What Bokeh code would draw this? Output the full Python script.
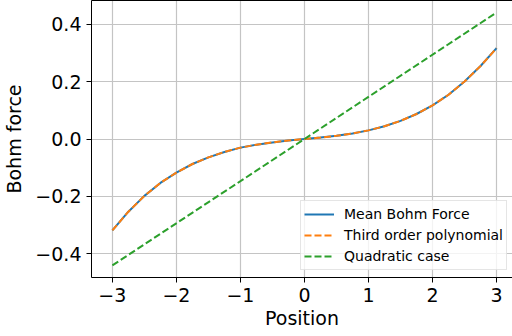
from bokeh.plotting import figure
from bokeh.models import (Range1d, LinearAxis, FixedTicker, CustomJSTickFormatter,
                          Legend, LegendItem)
from bokeh.embed import file_html
from bokeh.resources import INLINE

positions = [-3.0, -2.75, -2.5, -2.25, -2.0, -1.75, -1.5, -1.25, -1.0, -0.75, -0.5, -0.25,
             0.0, 0.25, 0.5, 0.75, 1.0, 1.25, 1.5, 1.75, 2.0, 2.25, 2.5, 2.75, 3.0]
mean_bohm_force = [-0.318, -0.253, -0.198, -0.153, -0.117, -0.087, -0.064, -0.045, -0.030,
                   -0.020, -0.012, -0.005, 0.0, 0.005, 0.011, 0.0195, 0.030, 0.0445, 0.063,
                   0.087, 0.117, 0.154, 0.200, 0.254, 0.316]
third_order_polynomial = [-0.318, -0.253, -0.198, -0.153, -0.117, -0.087, -0.064, -0.045, -0.030,
                          -0.020, -0.012, -0.005, 0.0, 0.005, 0.011, 0.0195, 0.030, 0.0445, 0.063,
                          0.087, 0.117, 0.154, 0.200, 0.254, 0.316]
quadratic_x = [-3.0, 0.0, 3.0]
quadratic_y = [-0.44, 0.0, 0.44]

x_ticks = [-3, -2, -1, 0, 1, 2, 3]
y_ticks = [-0.4, -0.2, 0.0, 0.2, 0.4]
series_labels = ["Mean Bohm Force", "Third order polynomial", "Quadratic case"]

FONT = "DejaVu Sans"

p = figure(width=512, height=336, output_backend="svg", toolbar_location=None,
           x_range=Range1d(-3.326, 3.249), y_range=Range1d(-0.482, 0.482),
           min_border_left=89, min_border_right=0, min_border_top=0, min_border_bottom=59,
           background_fill_color="white", border_fill_color="white")
p.outline_line_color = None

r1 = p.line(positions, mean_bohm_force, line_color="#1f77b4", line_width=2)
r2 = p.line(positions, third_order_polynomial, line_color="#ff7f0e", line_width=2,
            line_dash="7 3")
r3 = p.line(quadratic_x, quadratic_y, line_color="#2ca02c", line_width=2, line_dash="7 3")

for ax in (p.xaxis[0], p.yaxis[0]):
    ax.axis_line_color = "black"
    ax.axis_line_width = 1
    ax.major_tick_out = 5
    ax.major_tick_in = 0
    ax.major_tick_line_color = "black"
    ax.minor_tick_line_color = None
    ax.major_label_text_font = FONT
    ax.major_label_text_font_size = "19px"
    ax.major_label_text_color = "black"
    ax.axis_label_text_font = FONT
    ax.axis_label_text_font_size = "19px"
    ax.axis_label_text_font_style = "normal"
    ax.axis_label_text_color = "black"
    ax.major_label_standoff = 5

p.xaxis[0].ticker = FixedTicker(ticks=x_ticks)
p.yaxis[0].ticker = FixedTicker(ticks=y_ticks)
p.xaxis[0].formatter = CustomJSTickFormatter(
    code='return (tick < -1e-9 ? "\u2212" : "") + Math.abs(tick).toFixed(0);')
p.yaxis[0].formatter = CustomJSTickFormatter(
    code='return (tick < -1e-9 ? "\u2212" : "") + Math.abs(tick).toFixed(1);')
p.xaxis[0].axis_label = "Position"
p.yaxis[0].axis_label = "Bohm force"
p.xaxis[0].axis_label_standoff = 2
p.yaxis[0].axis_label_standoff = 7

top = LinearAxis(ticker=FixedTicker(ticks=[]), major_tick_out=0, major_tick_in=0,
                 minor_tick_out=0, minor_tick_in=0, major_label_standoff=0,
                 major_label_text_font_size="0px", axis_line_color="black",
                 axis_line_width=1)
p.add_layout(top, "above")

p.xgrid[0].ticker = FixedTicker(ticks=x_ticks)
p.ygrid[0].ticker = FixedTicker(ticks=y_ticks)
p.grid.grid_line_color = "#c4c4c4"
p.grid.grid_line_width = 1.2

legend = Legend(items=[LegendItem(label=series_labels[0], renderers=[r1]),
                       LegendItem(label=series_labels[1], renderers=[r2]),
                       LegendItem(label=series_labels[2], renderers=[r3])],
                location=(209, 7), margin=0, padding=3, spacing=1,
                glyph_width=30, glyph_height=20, label_height=20, label_standoff=10,
                label_text_font=FONT, label_text_font_size="14px",
                label_text_color="black",
                border_line_color="#cccccc", border_line_width=1,
                background_fill_color="white", background_fill_alpha=0.8)
p.add_layout(legend)

open("out.html", "w").write(file_html(p, INLINE))
